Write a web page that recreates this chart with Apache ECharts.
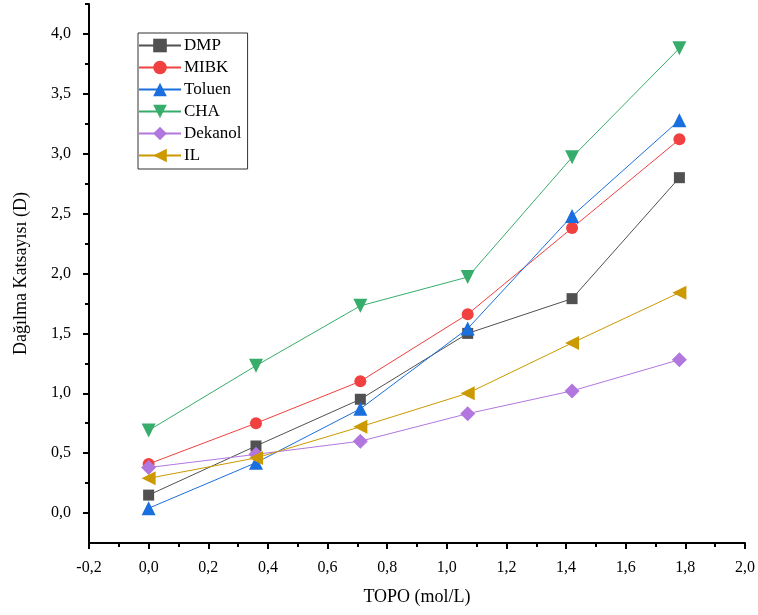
<!DOCTYPE html>
<html>
<head>
<meta charset="utf-8">
<script src="https://cdn.jsdelivr.net/npm/echarts@6/dist/echarts.min.js"></script>
<style>
  html, body { margin: 0; padding: 0; background: #fff; }
  #chart { width: 758px; height: 615px; }
</style>
</head>
<body>
<div id="chart"></div>
<script>
// TOPO concentrations (mol/L)
const topo = [0, 0.36, 0.71, 1.07, 1.42, 1.78];

// Distribution coefficient D for each diluent
const dmp     = [0.15, 0.56, 0.95, 1.50, 1.79, 2.80];
const mibk    = [0.41, 0.75, 1.10, 1.66, 2.38, 3.12];
const toluen  = [0.04, 0.42, 0.87, 1.54, 2.48, 3.28];
const cha     = [0.69, 1.23, 1.73, 1.97, 2.97, 3.88];
const dekanol = [0.38, 0.49, 0.60, 0.83, 1.02, 1.28];
const il      = [0.29, 0.46, 0.72, 1.00, 1.42, 1.84];

// Axis ticks
const yMajorTicks = [0, 0.5, 1.0, 1.5, 2.0, 2.5, 3.0, 3.5, 4.0];
const yMinorTicks = [0.25, 0.75, 1.25, 1.75, 2.25, 2.75, 3.25, 3.75, 4.25];

const FONT = '"Liberation Serif", "Times New Roman", serif';
const comma = v => Number(v).toFixed(1).replace('.', ',');

const pairs = ys => topo.map((x, i) => [x, ys[i]]);

function makeSeries(name, ys, color, symbol, size, rotate) {
  return {
    name: name,
    type: 'line',
    data: pairs(ys),
    symbol: symbol,
    symbolSize: size,
    symbolRotate: rotate || 0,
    showSymbol: true,
    itemStyle: { color: color },
    lineStyle: { color: color, width: 1 },
    emphasis: { disabled: true },
    animation: false,
    z: 3
  };
}

const chart = echarts.init(document.getElementById('chart'), null, { renderer: 'canvas' });

chart.setOption({
  backgroundColor: '#ffffff',
  animation: false,
  textStyle: { fontFamily: FONT },
  grid: { left: 89, right: 12, top: 4, bottom: 72, containLabel: false },
  legend: {
    left: 138,
    top: 33,
    orient: 'vertical',
    itemWidth: 42,
    itemHeight: 17,
    itemGap: 5,
    padding: [4, 6, 5, 0],
    borderColor: '#333',
    borderWidth: 1,
    textStyle: { fontFamily: FONT, fontSize: 17, color: '#000', padding: [0, 0, 0, -2] },
    data: ['DMP', 'MIBK', 'Toluen', 'CHA', 'Dekanol', 'IL']
  },
  xAxis: {
    type: 'value',
    min: -0.2,
    max: 2.0,
    interval: 0.2,
    name: 'TOPO (mol/L)',
    nameLocation: 'middle',
    nameGap: 45,
    nameTextStyle: { fontFamily: FONT, fontSize: 18, color: '#000' },
    axisLine: { show: true, onZero: false, lineStyle: { color: '#000', width: 2 } },
    axisTick: { show: true, length: 6, lineStyle: { color: '#000', width: 2 } },
    minorTick: { show: true, splitNumber: 2, length: 4, lineStyle: { color: '#000', width: 2 } },
    splitLine: { show: false },
    minorSplitLine: { show: false },
    axisLabel: { fontFamily: FONT, fontSize: 16, color: '#000', margin: 17, formatter: comma }
  },
  yAxis: [
    {
      type: 'value',
      min: -0.25,
      max: 4.25,
      name: 'Dağılma Katsayısı (D)',
      nameLocation: 'middle',
      nameGap: 59,
      nameTextStyle: { fontFamily: FONT, fontSize: 18, color: '#000' },
      axisLine: { show: true, onZero: false, lineStyle: { color: '#000', width: 2 } },
      axisTick: { show: true, length: 6, customValues: yMajorTicks, lineStyle: { color: '#000', width: 2 } },
      splitLine: { show: false },
      axisLabel: { fontFamily: FONT, fontSize: 16, color: '#000', margin: 18, customValues: yMajorTicks, formatter: comma }
    },
    {
      type: 'value',
      min: -0.25,
      max: 4.25,
      position: 'left',
      axisLine: { show: false, onZero: false },
      axisTick: { show: true, length: 4, customValues: yMinorTicks, lineStyle: { color: '#000', width: 2 } },
      splitLine: { show: false },
      axisLabel: { show: false }
    }
  ],
  series: [
    makeSeries('DMP', dmp, '#515151', 'rect', 11),
    makeSeries('MIBK', mibk, '#F14040', 'circle', 12),
    makeSeries('Toluen', toluen, '#1A6FDF', 'triangle', 14),
    makeSeries('CHA', cha, '#37AD6B', 'triangle', 14, 180),
    makeSeries('Dekanol', dekanol, '#B177DE', 'diamond', 15),
    makeSeries('IL', il, '#CC9900', 'triangle', 14, 90)
  ]
});
</script>
</body>
</html>
